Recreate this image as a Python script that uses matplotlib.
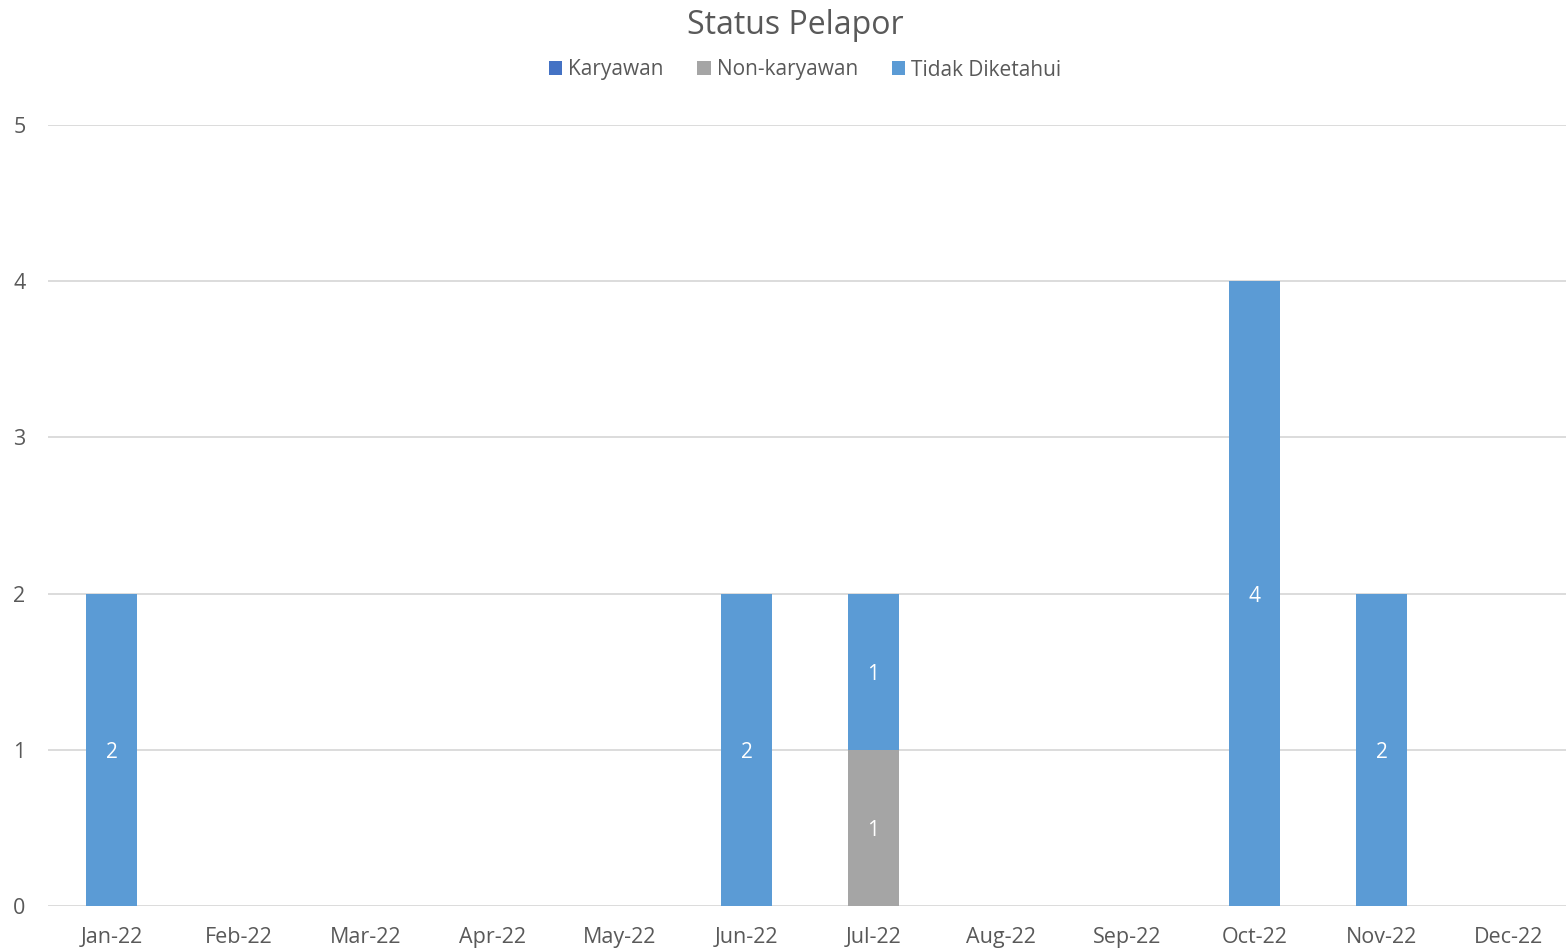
import matplotlib
matplotlib.use("Agg")
import matplotlib.pyplot as plt
import numpy as np

months = ["Jan-22", "Feb-22", "Mar-22", "Apr-22", "May-22", "Jun-22",
          "Jul-22", "Aug-22", "Sep-22", "Oct-22", "Nov-22", "Dec-22"]
karyawan = [0, 0, 0, 0, 0, 0, 0, 0, 0, 0, 0, 0]
non_karyawan = [0, 0, 0, 0, 0, 0, 1, 0, 0, 0, 0, 0]
tidak_diketahui = [2, 0, 0, 0, 0, 2, 1, 0, 0, 4, 2, 0]

series = [
    ("Karyawan", karyawan, "#4472C4"),
    ("Non-karyawan", non_karyawan, "#A5A5A5"),
    ("Tidak Diketahui", tidak_diketahui, "#5B9BD5"),
]

plt.rcParams["font.family"] = ["Open Sans", "DejaVu Sans"]
text_color = "#595959"

W, H = 1566, 949
fig = plt.figure(figsize=(W / 100, H / 100), dpi=100)
ax = fig.add_axes([48 / W, (H - 906) / H, (1572 - 48) / W, 781 / H])

x = np.arange(len(months))
bottom = np.zeros(len(months))
handles = []
for name, vals, color in series:
    vals = np.array(vals, dtype=float)
    bars = ax.bar(x, vals, width=0.4, bottom=bottom, color=color,
                  label=name, zorder=3)
    handles.append(bars)
    for xi, v, b in zip(x, vals, bottom):
        if v > 0:
            ax.text(xi, b + v / 2, f"{int(v)}", ha="center",
                    va="center_baseline", color="white", fontsize=15,
                    zorder=4)
    bottom += vals

ax.set_xlim(-0.5, 11.5)
ax.set_ylim(0, 5)
ax.set_yticks(range(6))
ax.yaxis.grid(True, color="#D9D9D9", linewidth=1.3, zorder=0)
ax.set_xticks(x)
ax.set_xticklabels(months)
ax.tick_params(axis="both", length=0, labelsize=15.5, colors=text_color)
ax.tick_params(axis="x", pad=15)
ax.tick_params(axis="y", pad=25)
for lbl in ax.get_yticklabels():
    lbl.set_horizontalalignment("left")
for s in ax.spines.values():
    s.set_visible(False)

fig.text(795 / W, 1 - 21 / H, "Status Pelapor", ha="center",
         va="center_baseline", fontsize=23, color=text_color)
fig.legend(handles=handles, loc="center", bbox_to_anchor=(805 / W, 1 - 70 / H),
           ncol=3, frameon=False, fontsize=15, handlelength=0.65,
           handleheight=0.65, handletextpad=0.3, columnspacing=1.6,
           labelcolor=text_color)

fig.savefig("out.png", dpi=100)
